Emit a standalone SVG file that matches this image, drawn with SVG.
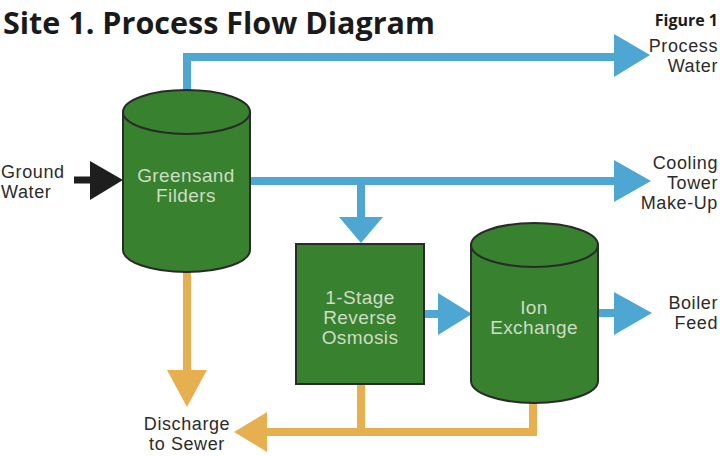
<svg xmlns="http://www.w3.org/2000/svg" width="720" height="456" viewBox="0 0 720 456">
<style>
.node{fill:#37812f;stroke:#2a2a2a;stroke-width:2}
.nt{font-family:"Liberation Sans",Arial,sans-serif;font-size:19px;letter-spacing:0.4px;fill:#cfdcc6;text-anchor:middle}
.lbl{font-family:"Liberation Sans",Arial,sans-serif;font-size:18px;letter-spacing:0.6px;fill:#2b2b2b}
.blue{stroke:#4ea6d2;stroke-width:8;fill:none}
.bluh{fill:#4ea6d2}
.org{stroke:#e6b050;stroke-width:8;fill:none}
.orgh{fill:#e6b050}
</style>
<rect width="720" height="456" fill="#ffffff"/>
<text x="3" y="34" font-family="'Open Sans','Liberation Sans',sans-serif" font-weight="bold" font-size="30" fill="#1a1a1a" textLength="432" lengthAdjust="spacingAndGlyphs">Site 1. Process Flow Diagram</text>
<text x="718" y="26" font-family="'Open Sans','Liberation Sans',sans-serif" font-weight="bold" font-size="16" fill="#1a1a1a" text-anchor="end">Figure 1</text>
<g id="connectors">
<polyline class="blue" points="187,92 187,57 616,57"/>
<polygon class="bluh" points="614,34 650,55 614,77"/>
<line class="blue" x1="250" y1="181" x2="616" y2="181"/>
<polygon class="bluh" points="614,160 651,181 614,202"/>
<line class="blue" x1="361" y1="181" x2="361" y2="219"/>
<polygon class="bluh" points="339,217 383,217 361,243"/>
<line class="blue" x1="424" y1="314" x2="440" y2="314"/>
<polygon class="bluh" points="438,293 472,314 438,335"/>
<line class="blue" x1="598" y1="313" x2="616" y2="313"/>
<polygon class="bluh" points="614,292 652,313 614,335"/>
<line x1="74" y1="180" x2="92" y2="180" stroke="#1e1e1e" stroke-width="7"/>
<polygon points="90,161 123,180 90,200" fill="#1e1e1e"/>
<line class="org" x1="187" y1="272" x2="187" y2="372"/>
<polygon class="orgh" points="167,370 207,370 187,407"/>
<polyline class="org" points="361,384 361,432"/>
<polyline class="org" points="533,402 533,432 265,432"/>
<polygon class="orgh" points="267,412 234,432 267,452"/>
</g>
<g id="greensand">
<path class="node" d="M123,112 L123,250 A63.5,22 0 0 0 250,250 L250,112"/>
<ellipse class="node" cx="186.5" cy="112" rx="63.5" ry="22"/>
<text class="nt" x="186" y="182">Greensand</text>
<text class="nt" x="186" y="202">Filders</text>
</g>
<g id="ro">
<rect class="node" x="296" y="244" width="128" height="140"/>
<text class="nt" x="360" y="304">1-Stage</text>
<text class="nt" x="360" y="324">Reverse</text>
<text class="nt" x="360" y="344">Osmosis</text>
</g>
<g id="ionexchange">
<path class="node" d="M471,245 L471,381 A63.5,22 0 0 0 598,381 L598,245"/>
<ellipse class="node" cx="534.5" cy="245" rx="63.5" ry="22"/>
<text class="nt" x="534" y="314">Ion</text>
<text class="nt" x="534" y="334">Exchange</text>
</g>
<g id="labels">
<text class="lbl" x="718" y="52" text-anchor="end">Process</text>
<text class="lbl" x="718" y="72" text-anchor="end">Water</text>
<text class="lbl" x="718" y="169" text-anchor="end">Cooling</text>
<text class="lbl" x="718" y="189" text-anchor="end">Tower</text>
<text class="lbl" x="718" y="209" text-anchor="end">Make-Up</text>
<text class="lbl" x="718" y="309" text-anchor="end">Boiler</text>
<text class="lbl" x="718" y="329" text-anchor="end">Feed</text>
<text class="lbl" x="1" y="178">Ground</text>
<text class="lbl" x="1" y="198">Water</text>
<text class="lbl" x="187" y="430" text-anchor="middle">Discharge</text>
<text class="lbl" x="187" y="450" text-anchor="middle">to Sewer</text>
</g>
</svg>
